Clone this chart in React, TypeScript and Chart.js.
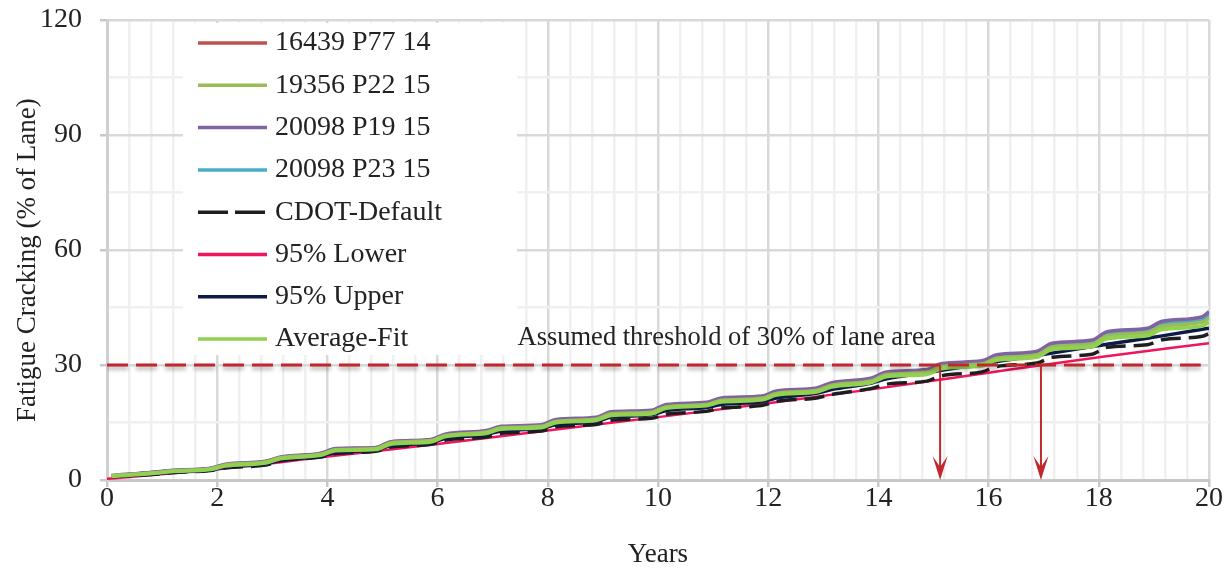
import React, { useEffect, useRef } from 'react';
import { Chart, registerables } from 'chart.js';

Chart.register(...registerables);

const FONT = "'Liberation Serif', 'Times New Roman', serif";
const TEXT = '#222222';

// ---- data ----
const years = [0.08, 0.88, 1.15, 1.88, 2.15, 2.88, 3.15, 3.88, 4.15, 4.88, 5.15, 5.88, 6.15, 6.88, 7.15, 7.88, 8.15, 8.88, 9.15, 9.88, 10.15, 10.88, 11.15, 11.88, 12.15, 12.88, 13.15, 13.88, 14.15, 14.88, 15.15, 15.88, 16.15, 16.88, 17.15, 17.88, 18.15, 18.88, 19.15, 19.88, 20.0];

const p77_14 = [1.1, 2.0, 2.4, 3.0, 4.0, 4.8, 5.9, 6.9, 8.1, 8.4, 9.9, 10.5, 11.8, 12.7, 13.8, 14.2, 15.6, 16.2, 17.6, 18.0, 19.5, 20.1, 21.2, 21.7, 23.0, 23.8, 25.2, 26.4, 28.0, 28.5, 30.1, 30.8, 32.4, 33.3, 35.4, 36.2, 38.3, 39.2, 41.0, 42.2, 43.5];
const p22_15 = [1.1, 1.9, 2.3, 2.9, 3.9, 4.7, 5.8, 6.7, 7.9, 8.2, 9.7, 10.3, 11.6, 12.5, 13.6, 14.0, 15.3, 15.9, 17.3, 17.7, 19.1, 19.7, 20.8, 21.3, 22.6, 23.4, 24.7, 25.9, 27.5, 28.1, 29.6, 30.3, 31.8, 32.7, 34.7, 35.5, 37.6, 38.5, 40.1, 41.2, 42.2];
const p19_15 = [1.2, 2.1, 2.5, 3.1, 4.1, 4.9, 6.0, 7.0, 8.2, 8.5, 10.0, 10.6, 12.0, 12.9, 14.0, 14.4, 15.8, 16.4, 17.8, 18.2, 19.7, 20.3, 21.4, 21.9, 23.2, 24.0, 25.4, 26.6, 28.2, 28.8, 30.4, 31.1, 32.7, 33.6, 35.7, 36.5, 38.7, 39.6, 41.4, 42.6, 43.9];
const p23_15 = [1.1, 2.0, 2.4, 3.0, 3.9, 4.7, 5.8, 6.8, 8.0, 8.3, 9.8, 10.4, 11.7, 12.6, 13.7, 14.1, 15.5, 16.1, 17.5, 17.9, 19.3, 19.9, 21.0, 21.5, 22.8, 23.6, 25.0, 26.2, 27.8, 28.3, 29.9, 30.6, 32.2, 33.0, 35.1, 35.9, 38.0, 38.9, 40.7, 41.9, 43.1];
const cdotDefault = [0.9, 1.5, 1.9, 2.5, 3.2, 3.9, 5.0, 6.0, 6.9, 7.5, 8.6, 9.3, 10.4, 11.2, 12.2, 12.8, 13.9, 14.5, 15.6, 16.1, 17.2, 17.9, 18.8, 19.4, 20.5, 21.4, 22.3, 23.9, 25.0, 25.8, 27.2, 28.2, 29.6, 30.5, 32.0, 32.8, 34.6, 35.3, 36.6, 37.5, 38.2];
const upper95 = [0.9, 1.6, 2.0, 2.6, 3.4, 4.2, 5.2, 6.2, 7.2, 7.8, 9.0, 9.7, 10.9, 11.8, 12.8, 13.4, 14.5, 15.2, 16.4, 17.0, 18.1, 18.9, 19.7, 20.4, 21.4, 22.6, 23.6, 25.3, 26.4, 28.0, 28.6, 30.3, 30.9, 32.5, 33.1, 34.8, 35.4, 37.0, 37.6, 39.3, 39.6];
const averageFit = [1.0, 1.8, 2.2, 2.8, 3.7, 4.5, 5.6, 6.5, 7.7, 8.0, 9.4, 10.0, 11.4, 12.2, 13.3, 13.7, 15.0, 15.6, 16.9, 17.3, 18.8, 19.4, 20.4, 20.9, 22.2, 23.0, 24.3, 25.5, 27.0, 27.6, 29.1, 29.8, 31.3, 32.1, 34.1, 34.8, 36.9, 37.7, 39.3, 40.2, 41.3];

const lowerYears = [0, 2, 4, 6, 8, 10, 12, 14, 16, 18, 20];
const lower95 = [0.3, 2.8, 6.1, 9.4, 12.9, 16.4, 20.0, 23.9, 28.0, 32.0, 35.7];

const thresholdValue = 30;
const thresholdYears = [0, 19.85];
const crossingYears = [15.12, 16.95];
const thresholdLabel = 'Assumed threshold of 30% of lane area';
const thresholdLabelYear = 7.45;

const xTickLabels = [0, 2, 4, 6, 8, 10, 12, 14, 16, 18, 20];
const yTickLabels = [0, 30, 60, 90, 120];

const seriesNames = ['16439 P77 14', '19356 P22 15', '20098 P19 15', '20098 P23 15', 'CDOT-Default', '95% Lower', '95% Upper', 'Average-Fit'];

// ---- helpers ----
const toPts = (xs: number[], ys: number[]) => xs.map((x, i) => ({ x, y: ys[i] }));
const near = (v: number, list: number[]) => list.some((t) => Math.abs(t - v) < 1e-6);

const MAJOR = '#d9d9d9';
const MINOR = '#f0f0f0';
const RED = '#c0282d';

const overlayPlugin = {
  id: 'overlay',
  beforeDatasetsDraw(chart: any) {
    const { ctx, chartArea } = chart;
    const left = chartArea.left;
    const top = chartArea.top;
    ctx.save();
    ctx.fillStyle = '#ffffff';
    ctx.fillRect(left + 76, top + 3, 334, 332);
    ctx.font = `28px ${FONT}`;
    ctx.textBaseline = 'middle';
    ctx.textAlign = 'left';
    chart.data.datasets.forEach((ds: any) => {
      if (ds.legendIndex === undefined) return;
      const y = top + 23 + ds.legendIndex * 42.3;
      ctx.beginPath();
      ctx.strokeStyle = ds.borderColor;
      ctx.lineWidth = 3.5;
      ctx.setLineDash(ds.legendDash || []);
      ctx.moveTo(left + 91, y);
      ctx.lineTo(left + 160, y);
      ctx.stroke();
      ctx.setLineDash([]);
      ctx.fillStyle = TEXT;
      ctx.fillText(ds.label, left + 168, y);
    });
    ctx.restore();
  },
  beforeDatasetDraw(chart: any, args: any) {
    const ds = chart.data.datasets[args.index];
    if (ds.isThreshold) {
      const ctx = chart.ctx;
      ctx.save();
      ctx.shadowColor = 'rgba(0,0,0,0.35)';
      ctx.shadowBlur = 4;
      ctx.shadowOffsetY = 3;
    }
  },
  afterDatasetDraw(chart: any, args: any) {
    const ds = chart.data.datasets[args.index];
    if (ds.isThreshold) chart.ctx.restore();
  },
  afterDatasetsDraw(chart: any) {
    const { ctx, scales } = chart;
    const xs = scales.x;
    const ys = scales.y;
    ctx.save();
    ctx.font = `26.5px ${FONT}`;
    ctx.fillStyle = TEXT;
    ctx.textAlign = 'left';
    ctx.textBaseline = 'alphabetic';
    ctx.fillText(thresholdLabel, xs.getPixelForValue(thresholdLabelYear), ys.getPixelForValue(thresholdValue) - 20);
    crossingYears.forEach((yr) => {
      const x = xs.getPixelForValue(yr);
      const yTop = ys.getPixelForValue(thresholdValue);
      const yBot = ys.getPixelForValue(0);
      ctx.strokeStyle = RED;
      ctx.lineWidth = 2;
      ctx.beginPath();
      ctx.moveTo(x, yTop);
      ctx.lineTo(x, yBot - 12);
      ctx.stroke();
      ctx.fillStyle = RED;
      ctx.beginPath();
      ctx.moveTo(x, yBot);
      ctx.lineTo(x - 7.5, yBot - 24);
      ctx.lineTo(x, yBot - 13);
      ctx.lineTo(x + 7.5, yBot - 24);
      ctx.closePath();
      ctx.fill();
    });
    ctx.restore();
  },
};

const lineBase = {
  pointRadius: 0,
  pointHoverRadius: 0,
  fill: false,
  cubicInterpolationMode: 'monotone' as const,
  borderCapStyle: 'butt' as const,
  borderJoinStyle: 'round' as const,
};

export default function App() {
  const ref = useRef<HTMLCanvasElement>(null);

  useEffect(() => {
    const datasets: any[] = [
      { ...lineBase, label: seriesNames[0], data: toPts(years, p77_14), borderColor: '#c0504d', borderWidth: 3.5, order: 4, legendIndex: 0 },
      { ...lineBase, label: seriesNames[1], data: toPts(years, p22_15), borderColor: '#9bbb59', borderWidth: 3.5, order: 1, legendIndex: 1 },
      { ...lineBase, label: seriesNames[2], data: toPts(years, p19_15), borderColor: '#8064a2', borderWidth: 3.5, order: 2, legendIndex: 2 },
      { ...lineBase, label: seriesNames[3], data: toPts(years, p23_15), borderColor: '#4bacc6', borderWidth: 3.5, order: 3, legendIndex: 3 },
      { ...lineBase, label: seriesNames[4], data: toPts(years, cdotDefault), borderColor: '#1e1e1e', borderWidth: 3.5, borderDash: [20, 8], legendDash: [30, 7], order: 6, legendIndex: 4 },
      { ...lineBase, label: seriesNames[5], data: toPts(lowerYears, lower95), borderColor: '#f0145a', borderWidth: 2.5, order: 7, legendIndex: 5 },
      { ...lineBase, label: seriesNames[6], data: toPts(years, upper95), borderColor: '#0c1a48', borderWidth: 3.5, order: 5, legendIndex: 6 },
      { ...lineBase, label: seriesNames[7], data: toPts(years, averageFit), borderColor: '#92d050', borderWidth: 4, order: 0, legendIndex: 7 },
      {
        ...lineBase,
        label: 'Threshold',
        data: thresholdYears.map((x) => ({ x, y: thresholdValue })),
        borderColor: RED,
        borderWidth: 3,
        borderDash: [21, 8],
        order: -1,
        isThreshold: true,
      },
    ];

    const chart = new Chart(ref.current as HTMLCanvasElement, {
      type: 'line',
      data: { datasets },
      options: {
        animation: false,
        responsive: false,
        devicePixelRatio: 1,
        layout: { padding: { left: 0, right: 20, top: 20, bottom: 0 } },
        plugins: { legend: { display: false }, tooltip: { enabled: false } },
        font: { family: FONT },
        scales: {
          x: {
            type: 'linear',
            min: 0,
            max: 20,
            afterFit: (s: any) => {
              s.height = 89;
              s.paddingTop = 0;
              s.paddingBottom = 0;
              s.paddingLeft = 0;
              s.paddingRight = 0;
            },
            border: { display: true, color: '#c8c8c8', width: 3 },
            grid: {
              color: (c: any) => (c.tick && near(c.tick.value, xTickLabels) ? MAJOR : MINOR),
              lineWidth: 2.5,
              tickLength: 7,
              tickWidth: 2.5,
              tickColor: (c: any) => (c.tick && near(c.tick.value, xTickLabels) ? '#c8c8c8' : 'rgba(0,0,0,0)'),
            },
            ticks: {
              stepSize: 0.4,
              autoSkip: false,
              maxRotation: 0,
              minRotation: 0,
              padding: -2,
              color: TEXT,
              font: { family: FONT, size: 28, lineHeight: 1 },
              callback: (v: any) => {
                const n = Number(v);
                const hit = xTickLabels.find((t) => Math.abs(t - n) < 1e-6);
                return hit === undefined ? '' : String(hit);
              },
            },
            title: {
              display: true,
              text: 'Years',
              color: TEXT,
              font: { family: FONT, size: 27 },
              padding: { top: 0, bottom: -2 },
            },
          },
          y: {
            type: 'linear',
            min: 0,
            max: 120,
            afterFit: (s: any) => {
              s.width = 107;
              s.paddingTop = 0;
              s.paddingBottom = 0;
              s.paddingLeft = 0;
              s.paddingRight = 0;
            },
            border: { display: true, color: '#d0d0d0', width: 3 },
            grid: {
              color: (c: any) => (c.tick && near(c.tick.value, yTickLabels) ? MAJOR : MINOR),
              lineWidth: 2.5,
              tickLength: 7,
              tickWidth: 2.5,
              tickColor: (c: any) => (c.tick && near(c.tick.value, yTickLabels) ? '#c8c8c8' : 'rgba(0,0,0,0)'),
            },
            ticks: {
              stepSize: 15,
              autoSkip: false,
              padding: 18,
              color: TEXT,
              font: { family: FONT, size: 28 },
              callback: (v: any) => {
                const n = Number(v);
                const hit = yTickLabels.find((t) => Math.abs(t - n) < 1e-6);
                return hit === undefined ? '' : String(hit);
              },
            },
            title: {
              display: true,
              text: 'Fatigue Cracking (% of Lane)   ',
              color: TEXT,
              font: { family: FONT, size: 27 },
              padding: { top: 12, bottom: 0 },
            },
          },
        },
      },
      plugins: [overlayPlugin],
    } as any);

    return () => chart.destroy();
  }, []);

  return (
    <div style={{ position: 'fixed', left: 0, top: 0, width: 1229, height: 569, background: '#ffffff' }}>
      <canvas ref={ref} width={1229} height={569} style={{ display: 'block' }} />
    </div>
  );
}
